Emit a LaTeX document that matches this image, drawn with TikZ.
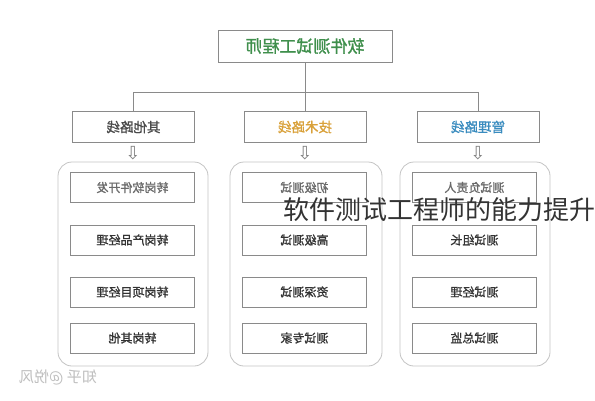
\documentclass[tikz,border=0pt]{standalone}
\usepackage{fontspec}
\usepackage{graphicx}
\newfontfamily\cjk[FakeBold=1.2]{Noto Sans CJK SC}
\newfontfamily\cjkr{Noto Sans CJK SC}
\newfontfamily\symfont{DejaVu Sans}
\definecolor{titlegreen}{HTML}{3F8F4C}
\definecolor{techorange}{HTML}{D9A13A}
\definecolor{mgmtblue}{HTML}{3A8CBF}
\definecolor{othergray}{HTML}{4A4A4A}
\definecolor{boxline}{HTML}{8A8A8A}
\definecolor{contline}{HTML}{C4C4C4}
\definecolor{itemtext}{HTML}{333333}
\definecolor{fadetext}{HTML}{6A6A6A}
\newcommand{\mir}[1]{\scalebox{-1}[1]{#1}}
\tikzset{
  topbox/.style={draw=boxline, line width=0.7pt, minimum width=174pt, minimum height=32pt, inner sep=0pt,
    font=\cjk\fontsize{17}{17}\selectfont, text=titlegreen},
  headbox/.style={draw=boxline, line width=0.7pt, minimum width=122pt, minimum height=31pt, inner sep=0pt,
    font=\cjk\fontsize{13.5}{13.5}\selectfont},
  itembox/.style={draw=boxline, line width=0.7pt, minimum width=124pt, minimum height=30pt, inner sep=0pt,
    font=\cjk\fontsize{12}{12}\selectfont, text=itemtext},
  contbox/.style={draw=contline, line width=0.8pt, rounded corners=14pt, minimum width=150pt, minimum height=204pt, inner sep=0pt},
  conn/.style={draw=boxline, line width=0.7pt},
  hollowarrow/.style={font=\symfont\fontsize{18}{18}\selectfont, text=gray, inner sep=0pt},
}
\begin{document}
\begin{tikzpicture}[x=1pt,y=-1pt]
\useasboundingbox (0,0) rectangle (595,400);
\fill[white] (0,0) rectangle (595,400);

% containers
\node[contbox] (c1) at (133,264) {};
\node[contbox, minimum width=152pt] (c2) at (306,264) {};
\node[contbox] (c3) at (475,264) {};

% top
\node[topbox] (top) at (305,46) {\mir{软件测试工程师}};

% headers
\node[headbox, text=othergray] (h1) at (133.5,127) {\mir{其他路线}};
\node[headbox, text=techorange] (h2) at (305,127) {\mir{技术路线}};
\node[headbox, text=mgmtblue] (h3) at (478,127) {\mir{管理路线}};

% connectors
\draw[conn] (top.south) -- (h2.north);
\draw[conn] (h1.north) -- ++(0,-19) -| (h3.north);

% hollow arrows
\node[hollowarrow] (a1) at (133,153) {⇩};
\node[hollowarrow] (a2) at (305,153) {⇩};
\node[hollowarrow] (a3) at (478,153) {⇩};

% items left
\node[itembox, text=fadetext] (l1) at (132.5,187.5) {\mir{转岗软件开发}};
\node[itembox] (l2) at (132.5,240) {\mir{转岗产品经理}};
\node[itembox] (l3) at (132.5,292) {\mir{转岗项目经理}};
\node[itembox] (l4) at (132.5,338) {\mir{转岗其他}};
% items middle
\node[itembox, text=fadetext] (m1) at (304.5,187.5) {\mir{初级测试}};
\node[itembox] (m2) at (304.5,240) {\mir{高级测试}};
\node[itembox] (m3) at (304.5,292) {\mir{资深测试}};
\node[itembox] (m4) at (304.5,338) {\mir{测试专家}};
% items right
\node[itembox, text=fadetext] (r1) at (474.5,187.5) {\mir{测试负责人}};
\node[itembox] (r2) at (474.5,240) {\mir{测试组长}};
\node[itembox] (r3) at (474.5,292) {\mir{测试经理}};
\node[itembox] (r4) at (474.5,338) {\mir{测试总监}};

% overlay caption
\node[anchor=west, inner sep=0pt, font=\cjkr\fontsize{26}{26}\selectfont, text=black!80] (cap) at (283,210) {软件测试工程师的能力提升};

% watermark
\node[inner sep=0pt, font=\cjkr\fontsize{15}{15}\selectfont, text=gray!50] (wm) at (58,377) {\mir{知乎 @悦风}};
\end{tikzpicture}
\end{document}
